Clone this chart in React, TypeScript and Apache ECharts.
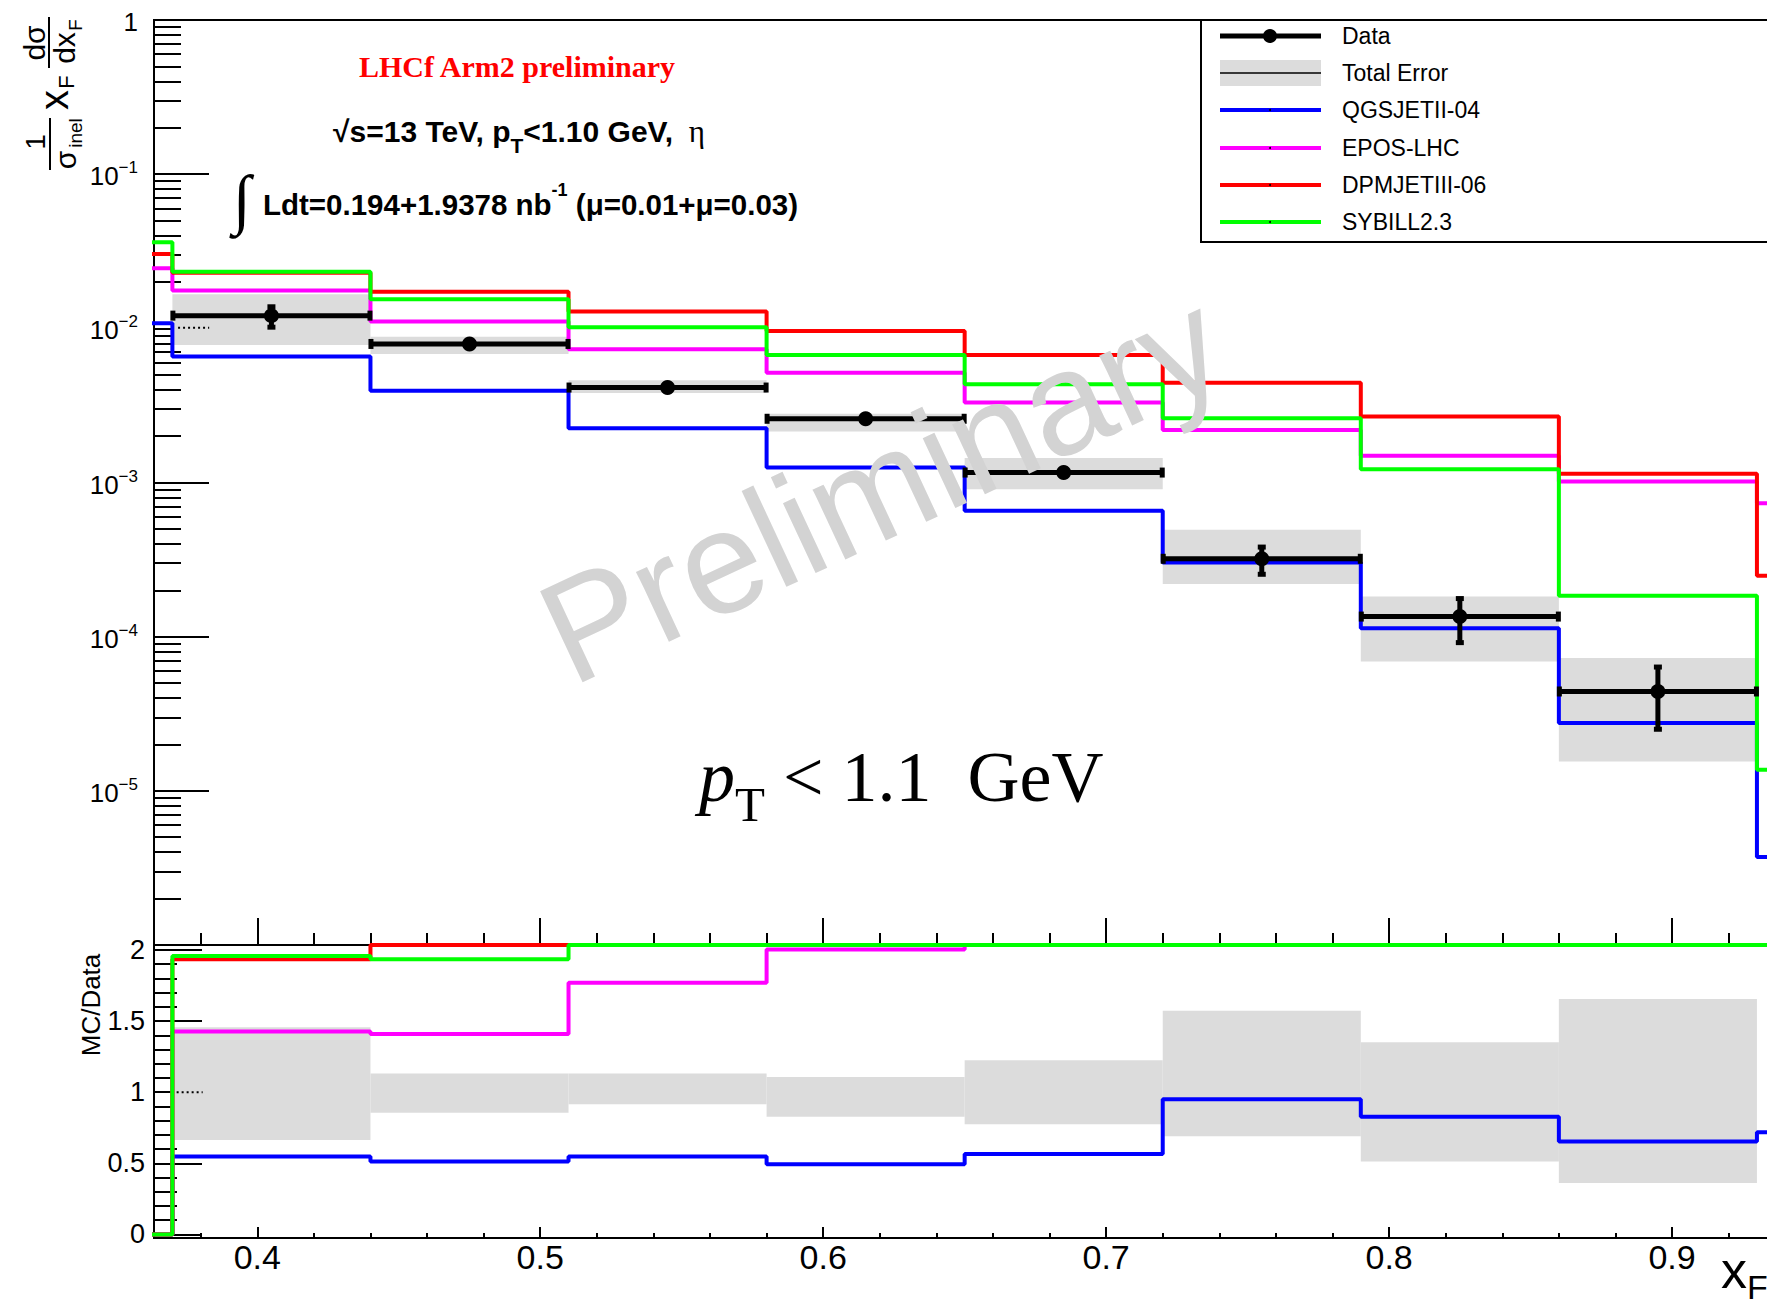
import React, { useEffect, useRef } from "react";
import * as echarts from "echarts";

const SANS = "'Liberation Sans', Arial, Helvetica, sans-serif";
const SERIF = "'Liberation Serif', 'Times New Roman', serif";

// ---- bins (x_F) ----
const BIN_EDGES = [0.3, 0.37, 0.44, 0.51, 0.58, 0.65, 0.72, 0.79, 0.86, 0.93, 1.0];

// ---- MC predictions, upper pad (one value per bin) ----
const QGSJET_VALUES = [0.0108, 0.00656, 0.00394, 0.00225, 0.00125, 0.000657, 0.000303, 0.0001135, 0.0000275, 0.00000372];
const EPOS_VALUES = [0.0245, 0.0176, 0.01106, 0.00732, 0.00516, 0.0033, 0.00219, 0.00149, 0.001014, 0.000734];
const DPMJET_VALUES = [0.0304, 0.0229, 0.0173, 0.01284, 0.00962, 0.00672, 0.00444, 0.00268, 0.00114, 0.000248];
const SIBYLL_VALUES = [0.0362, 0.0233, 0.01545, 0.01016, 0.00672, 0.00434, 0.00261, 0.00122, 0.000184, 0.0000137];

// ---- Data (bins 0.37 - 0.93) ----
const DATA_X = [0.405, 0.475, 0.545, 0.615, 0.685, 0.755, 0.825, 0.895];
const DATA_Y = [0.01209, 0.00792, 0.00413, 0.00259, 0.00116, 0.00032, 0.000135, 0.0000441];
const DATA_STAT_LO = [0.0101, 0.00772, 0.00403, 0.00253, 0.00113, 0.000252, 0.0000908, 0.0000249];
const DATA_STAT_HI = [0.0139, 0.00812, 0.00423, 0.00265, 0.00119, 0.000384, 0.000178, 0.000064];
const TOTAL_ERR_LO = [0.0078, 0.00682, 0.0038, 0.00214, 0.000904, 0.00022, 0.000069, 0.0000155];
const TOTAL_ERR_HI = [0.01664, 0.00883, 0.0046, 0.00279, 0.00144, 0.000493, 0.000182, 0.0000726];

// ---- ratio pad (MC/Data), values at the frame top are drawn there (2.035) ----
const RATIO_QGSJET = [0, 0.548, 0.513, 0.548, 0.494, 0.566, 0.951, 0.827, 0.653, 0.718];
const RATIO_EPOS = [0, 1.427, 1.41, 1.77, 2.004, 2.035, 2.035, 2.035, 2.035, 2.035];
const RATIO_DPMJET = [0, 1.935, 2.035, 2.035, 2.035, 2.035, 2.035, 2.035, 2.035, 2.035];
const RATIO_SIBYLL = [0, 1.958, 1.935, 2.035, 2.035, 2.035, 2.035, 2.035, 2.035, 2.035];
const RATIO_ERR_LO = [0.664, 0.855, 0.916, 0.827, 0.774, 0.69, 0.513, 0.362];
const RATIO_ERR_HI = [1.457, 1.131, 1.131, 1.107, 1.224, 1.573, 1.352, 1.655];

// ---- short dotted marks near the left edge ----
const DOT_UPPER_X = [0.372, 0.383];
const DOT_UPPER_Y = [0.0101, 0.0101];
const DOT_LOWER_X = [0.3715, 0.3807];
const DOT_LOWER_Y = [1, 1];

// ---- axis ticks ----
const X_MIN = 0.3635;
const X_MAX = 1.0;
const X_MAJOR_TICKS = [0.4, 0.5, 0.6, 0.7, 0.8, 0.9, 1.0];
const X_LABELS = [0.4, 0.5, 0.6, 0.7, 0.8, 0.9];
const X_MINOR_TICKS = [0.38, 0.42, 0.44, 0.46, 0.48, 0.52, 0.54, 0.56, 0.58, 0.62, 0.64, 0.66, 0.68, 0.72, 0.74, 0.76, 0.78, 0.82, 0.84, 0.86, 0.88, 0.92, 0.94, 0.96, 0.98];
const RATIO_MAJOR_TICKS = [0, 0.5, 1, 1.5, 2];
const RATIO_MINOR_TICKS = [0.1, 0.2, 0.3, 0.4, 0.6, 0.7, 0.8, 0.9, 1.1, 1.2, 1.3, 1.4, 1.6, 1.7, 1.8, 1.9];

const BLUE = "#0000ff";
const MAGENTA = "#ff00ff";
const RED = "#ff0000";
const GREEN = "#00ff00";
const BAND = "#dcdcdc";

const LEGEND_ITEMS = ["Data", "Total Error", "QGSJETII-04", "EPOS-LHC", "DPMJETIII-06", "SYBILL2.3"];
const MC_COLORS = [BLUE, MAGENTA, RED, GREEN];

function stepPoints(vals: number[]) {
  const pts: number[][] = [];
  vals.forEach((v, i) => {
    pts.push([BIN_EDGES[i], v]);
    pts.push([BIN_EDGES[i + 1], v]);
  });
  return pts;
}

function mcLine(name: string, vals: number[], color: string, xi: number, yi: number, z: number) {
  return {
    name,
    type: "line",
    xAxisIndex: xi,
    yAxisIndex: yi,
    data: stepPoints(vals),
    symbol: "none",
    showSymbol: false,
    clip: true,
    lineStyle: { color, width: 4 },
    itemStyle: { color },
    z,
    silent: true,
  };
}

function bandSeries(lo: number[], hi: number[], xi: number, yi: number) {
  return {
    type: "custom",
    xAxisIndex: xi,
    yAxisIndex: yi,
    clip: true,
    z: 1,
    silent: true,
    data: lo.map((l, i) => [BIN_EDGES[i + 1], BIN_EDGES[i + 2], l, hi[i]]),
    encode: { x: [0, 1], y: [2, 3] },
    renderItem: (_p: any, api: any) => {
      const a = api.coord([api.value(0), api.value(3)]);
      const b = api.coord([api.value(1), api.value(2)]);
      return {
        type: "rect",
        shape: { x: a[0], y: a[1], width: b[0] - a[0], height: b[1] - a[1] },
        style: { fill: BAND },
      };
    },
  };
}

export default function App() {
  const ref = useRef<HTMLDivElement>(null);

  useEffect(() => {
    document.body.style.margin = "0";
    if (!ref.current) return;
    const chart = echarts.init(ref.current, null, { renderer: "svg" });

    const axisLineStyle = { color: "#000", width: 2 };

    const legendY = [36, 73, 110, 148, 185, 222];
    const legendGraphics: any[] = [
      {
        type: "rect",
        z: 50,
        shape: { x: 1201, y: 20, width: 800, height: 222 },
        style: { fill: "#fff", stroke: "#000", lineWidth: 2 },
      },
      { type: "line", z: 51, shape: { x1: 1220, y1: legendY[0], x2: 1321, y2: legendY[0] }, style: { stroke: "#000", lineWidth: 5 } },
      { type: "circle", z: 52, shape: { cx: 1270, cy: legendY[0], r: 7 }, style: { fill: "#000" } },
      { type: "rect", z: 51, shape: { x: 1220, y: legendY[1] - 13, width: 101, height: 26 }, style: { fill: BAND } },
      { type: "line", z: 52, shape: { x1: 1220, y1: legendY[1], x2: 1321, y2: legendY[1] }, style: { stroke: "#000", lineWidth: 1.5 } },
    ];
    MC_COLORS.forEach((c, i) => {
      const y = legendY[i + 2];
      legendGraphics.push({ type: "line", z: 51, shape: { x1: 1220, y1: y, x2: 1321, y2: y }, style: { stroke: c, lineWidth: 4 } });
      legendGraphics.push({ type: "circle", z: 52, shape: { cx: 1270, cy: y, r: 1 }, style: { fill: "#000" } });
    });
    LEGEND_ITEMS.forEach((t, i) => {
      legendGraphics.push({
        type: "text",
        z: 52,
        x: 1342,
        y: legendY[i],
        style: { text: t, fontFamily: SANS, fontSize: 23, fill: "#000", align: "left", verticalAlign: "middle" },
      });
    });

    const yTitle = {
      type: "group",
      x: 56,
      y: 175,
      rotation: Math.PI / 2,
      z: 60,
      children: [
        { type: "text", x: 33, y: -21, style: { text: "1", fontFamily: SANS, fontSize: 28, fill: "#000", align: "center", verticalAlign: "middle" } },
        { type: "line", shape: { x1: 5, y1: -6, x2: 57, y2: -6 }, style: { stroke: "#000", lineWidth: 2 } },
        { type: "text", x: 15, y: 9, style: { text: "σ", fontFamily: SANS, fontSize: 30, fill: "#000", align: "center", verticalAlign: "middle" } },
        { type: "text", x: 42, y: 19, style: { text: "inel", fontFamily: SANS, fontSize: 19, fill: "#000", align: "center", verticalAlign: "middle" } },
        { type: "text", x: 75, y: -2, style: { text: "x", fontFamily: SANS, fontSize: 40, fill: "#000", align: "center", verticalAlign: "middle" } },
        { type: "text", x: 93, y: 10, style: { text: "F", fontFamily: SANS, fontSize: 22, fill: "#000", align: "center", verticalAlign: "middle" } },
        { type: "text", x: 132, y: -22, style: { text: "dσ", fontFamily: SANS, fontSize: 30, fill: "#000", align: "center", verticalAlign: "middle" } },
        { type: "line", shape: { x1: 107, y1: -7, x2: 158, y2: -7 }, style: { stroke: "#000", lineWidth: 2 } },
        { type: "text", x: 127, y: 8, style: { text: "dx", fontFamily: SANS, fontSize: 30, fill: "#000", align: "center", verticalAlign: "middle" } },
        { type: "text", x: 150, y: 19, style: { text: "F", fontFamily: SANS, fontSize: 19, fill: "#000", align: "center", verticalAlign: "middle" } },
      ],
    };

    const graphics: any[] = [
      ...legendGraphics,
      yTitle,
      {
        type: "text",
        x: 91,
        y: 1005,
        rotation: Math.PI / 2,
        z: 60,
        style: { text: "MC/Data", fontFamily: SANS, fontSize: 26, fill: "#000", align: "center", verticalAlign: "middle" },
      },
      {
        type: "text",
        x: 1721,
        y: 1274,
        z: 60,
        style: {
          text: "{a|x}{b|F}",
          fontFamily: SANS,
          fill: "#000",
          align: "left",
          verticalAlign: "middle",
          rich: {
            a: { fontFamily: SANS, fontSize: 52, lineHeight: 60, verticalAlign: "top", fill: "#000" },
            b: { fontFamily: SANS, fontSize: 34, lineHeight: 40, verticalAlign: "bottom", fill: "#000" },
          },
        },
      },
      {
        type: "text",
        x: 517,
        y: 66,
        z: 60,
        style: { text: "LHCf Arm2 preliminary", fontFamily: SERIF, fontWeight: "bold", fontSize: 30, fill: "#ff0000", align: "center", verticalAlign: "middle" },
      },
      {
        type: "text",
        x: 519,
        y: 136,
        z: 60,
        style: {
          text: "{a|√s=13 TeV, p}{b|T}{a|<1.10 GeV,}{c|  η}",
          fontFamily: SANS,
          align: "center",
          verticalAlign: "middle",
          rich: {
            a: { fontFamily: SANS, fontWeight: "bold", fontSize: 30, lineHeight: 40, verticalAlign: "top", fill: "#000" },
            b: { fontFamily: SANS, fontWeight: "bold", fontSize: 21, lineHeight: 26, verticalAlign: "bottom", fill: "#000" },
            c: { fontFamily: SERIF, fontSize: 31, lineHeight: 40, verticalAlign: "top", fill: "#000" },
          },
        },
      },
      {
        type: "text",
        x: 242,
        y: 198,
        z: 60,
        style: { text: "∫", fontFamily: SERIF, fontSize: 66, fill: "#000", align: "center", verticalAlign: "middle" },
      },
      {
        type: "text",
        x: 263,
        y: 200,
        z: 60,
        style: {
          text: "{a|Ldt=0.194+1.9378 nb}{s|-1}{a| (μ=0.01+μ=0.03)}",
          fontFamily: SANS,
          align: "left",
          verticalAlign: "middle",
          rich: {
            a: { fontFamily: SANS, fontWeight: "bold", fontSize: 29.5, lineHeight: 38, verticalAlign: "bottom", fill: "#000" },
            s: { fontFamily: SANS, fontWeight: "bold", fontSize: 18, lineHeight: 21, verticalAlign: "top", fill: "#000" },
          },
        },
      },
      {
        type: "text",
        x: 699,
        y: 785,
        z: 60,
        style: {
          text: "{p|p}{t|T}{r| < 1.1  GeV}",
          fontFamily: SERIF,
          align: "left",
          verticalAlign: "middle",
          rich: {
            p: { fontFamily: SERIF, fontStyle: "italic", fontSize: 72, lineHeight: 88, verticalAlign: "top", fill: "#000" },
            t: { fontFamily: SERIF, fontSize: 49, lineHeight: 55, verticalAlign: "bottom", fill: "#000" },
            r: { fontFamily: SERIF, fontSize: 72, lineHeight: 88, verticalAlign: "top", fill: "#000" },
          },
        },
      },
      {
        type: "text",
        x: 881,
        y: 487,
        rotation: (25 * Math.PI) / 180,
        z: 100,
        style: { text: "Preliminary", fontFamily: SANS, fontSize: 146, fill: "#d3d3d3", align: "center", verticalAlign: "middle" },
      },
    ];

    const gridCommon = {
      left: 154,
      right: -188,
      show: true,
      borderColor: "#000",
      borderWidth: 2,
      backgroundColor: "transparent",
      containLabel: false,
      outerBoundsMode: "none",
    };

    const xBase = { type: "value", min: X_MIN, max: X_MAX, position: "bottom", splitLine: { show: false } };
    const ratioBase = { type: "value", min: -0.025, max: 2.035, position: "left", splitLine: { show: false } };

    const option: any = {
      animation: false,
      backgroundColor: "#fff",
      textStyle: { fontFamily: SANS },
      grid: [
        { ...gridCommon, top: 20, height: 925 },
        { ...gridCommon, top: 945, height: 293 },
      ],
      xAxis: [
        {
          ...xBase,
          gridIndex: 0,
          axisLine: { show: true, onZero: false, lineStyle: axisLineStyle },
          axisTick: { show: true, inside: true, length: 27, lineStyle: axisLineStyle, customValues: X_MAJOR_TICKS },
          axisLabel: { show: false },
        },
        {
          ...xBase,
          gridIndex: 0,
          axisLine: { show: false, onZero: false },
          axisTick: { show: true, inside: true, length: 12, lineStyle: axisLineStyle, customValues: X_MINOR_TICKS },
          axisLabel: { show: false },
        },
        {
          ...xBase,
          gridIndex: 1,
          axisLine: { show: true, onZero: false, lineStyle: axisLineStyle },
          axisTick: { show: true, inside: true, length: 11, lineStyle: axisLineStyle, customValues: X_MAJOR_TICKS },
          axisLabel: { show: true, customValues: X_LABELS, color: "#000", fontFamily: SANS, fontSize: 34, margin: 2 },
        },
        {
          ...xBase,
          gridIndex: 1,
          axisLine: { show: false, onZero: false },
          axisTick: { show: true, inside: true, length: 5, lineStyle: axisLineStyle, customValues: X_MINOR_TICKS },
          axisLabel: { show: false },
        },
      ],
      yAxis: [
        {
          gridIndex: 0,
          type: "log",
          logBase: 10,
          min: 1e-6,
          max: 1,
          position: "left",
          axisLine: { show: true, onZero: false, lineStyle: axisLineStyle },
          axisTick: { show: true, inside: true, length: 55, lineStyle: axisLineStyle },
          minorTick: { show: true, splitNumber: 9, length: 27, lineStyle: axisLineStyle },
          splitLine: { show: false },
          minorSplitLine: { show: false },
          axisLabel: {
            show: true,
            margin: 16,
            showMaxLabel: true,
            showMinLabel: false,
            formatter: (v: number) => {
              const n = Math.round(Math.log10(v));
              if (n === 0) return "{b|1}";
              if (n <= -6) return "";
              return `{b|10}{s|−${-n}}`;
            },
            rich: {
              b: { fontFamily: SANS, fontSize: 26, lineHeight: 30, verticalAlign: "bottom", color: "#000" },
              s: { fontFamily: SANS, fontSize: 17, lineHeight: 17, verticalAlign: "top", color: "#000" },
            },
          },
        },
        {
          ...ratioBase,
          gridIndex: 1,
          axisLine: { show: true, onZero: false, lineStyle: axisLineStyle },
          axisTick: { show: true, inside: true, length: 48, lineStyle: axisLineStyle, customValues: RATIO_MAJOR_TICKS },
          axisLabel: { show: true, customValues: RATIO_MAJOR_TICKS, color: "#000", fontFamily: SANS, fontSize: 27, margin: 9 },
        },
        {
          ...ratioBase,
          gridIndex: 1,
          axisLine: { show: false, onZero: false },
          axisTick: { show: true, inside: true, length: 23, lineStyle: axisLineStyle, customValues: RATIO_MINOR_TICKS },
          axisLabel: { show: false },
        },
      ],
      graphic: graphics,
      series: [
        // upper pad
        bandSeries(TOTAL_ERR_LO, TOTAL_ERR_HI, 0, 0),
        mcLine("QGSJETII-04", QGSJET_VALUES, BLUE, 0, 0, 2),
        mcLine("EPOS-LHC", EPOS_VALUES, MAGENTA, 0, 0, 2),
        mcLine("DPMJETIII-06", DPMJET_VALUES, RED, 0, 0, 2),
        mcLine("SYBILL2.3", SIBYLL_VALUES, GREEN, 0, 0, 2),
        {
          type: "line",
          xAxisIndex: 0,
          yAxisIndex: 0,
          data: DOT_UPPER_X.map((x, i) => [x, DOT_UPPER_Y[i]]),
          symbol: "none",
          lineStyle: { color: "#000", width: 2, type: [2, 3] },
          z: 2,
          silent: true,
        },
        {
          name: "Data",
          type: "custom",
          xAxisIndex: 0,
          yAxisIndex: 0,
          clip: true,
          z: 4,
          silent: true,
          data: DATA_X.map((x, i) => [x, DATA_Y[i], BIN_EDGES[i + 1], BIN_EDGES[i + 2], DATA_STAT_LO[i], DATA_STAT_HI[i]]),
          encode: { x: 0, y: 1 },
          renderItem: (_p: any, api: any) => {
            const x = api.value(0);
            const y = api.value(1);
            const c = api.coord([x, y]);
            const l = api.coord([api.value(2), y]);
            const r = api.coord([api.value(3), y]);
            const lo = api.coord([x, api.value(4)]);
            const hi = api.coord([x, api.value(5)]);
            const black = { fill: "#000" };
            return {
              type: "group",
              children: [
                { type: "line", shape: { x1: l[0], y1: l[1], x2: r[0], y2: r[1] }, style: { stroke: "#000", lineWidth: 5 } },
                { type: "rect", shape: { x: l[0] - 2, y: l[1] - 5, width: 5, height: 10 }, style: black },
                { type: "rect", shape: { x: r[0] - 3, y: r[1] - 5, width: 5, height: 10 }, style: black },
                { type: "line", shape: { x1: hi[0], y1: hi[1], x2: lo[0], y2: lo[1] }, style: { stroke: "#000", lineWidth: 5 } },
                { type: "rect", shape: { x: hi[0] - 4, y: hi[1] - 2, width: 8, height: 5 }, style: black },
                { type: "rect", shape: { x: lo[0] - 4, y: lo[1] - 3, width: 8, height: 5 }, style: black },
                { type: "circle", shape: { cx: c[0], cy: c[1], r: 7.5 }, style: black },
              ],
            };
          },
        },
        // ratio pad
        bandSeries(RATIO_ERR_LO, RATIO_ERR_HI, 2, 1),
        mcLine("QGSJETII-04 ratio", RATIO_QGSJET, BLUE, 2, 1, 2),
        mcLine("EPOS-LHC ratio", RATIO_EPOS, MAGENTA, 2, 1, 2),
        mcLine("DPMJETIII-06 ratio", RATIO_DPMJET, RED, 2, 1, 2),
        mcLine("SYBILL2.3 ratio", RATIO_SIBYLL, GREEN, 2, 1, 2),
        {
          type: "line",
          xAxisIndex: 2,
          yAxisIndex: 1,
          data: DOT_LOWER_X.map((x, i) => [x, DOT_LOWER_Y[i]]),
          symbol: "none",
          lineStyle: { color: "#000", width: 2, type: [2, 3] },
          z: 2,
          silent: true,
        },
      ],
    };

    chart.setOption(option);
    return () => chart.dispose();
  }, []);

  return <div ref={ref} style={{ width: 1767, height: 1305, overflow: "hidden", background: "#fff" }} />;
}
